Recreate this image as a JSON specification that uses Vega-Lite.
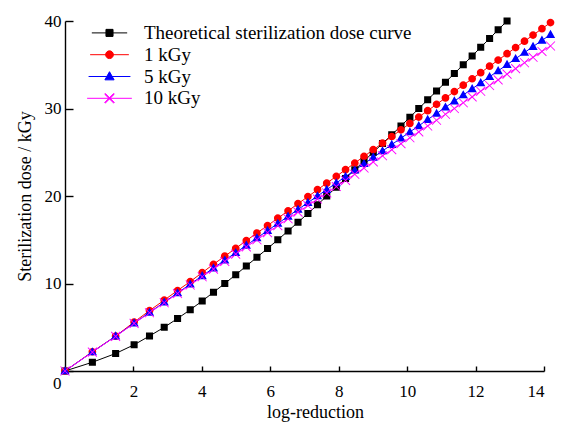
{
  "$schema": "https://vega.github.io/schema/vega-lite/v6.json",
  "autosize": {"type": "none"},
  "padding": {"left": 65, "top": 21, "right": 27, "bottom": 56},
  "width": 479,
  "height": 350,
  "background": "white",
  "config": {
    "view": {"stroke": null},
    "font": "Liberation Serif",
    "axis": {
      "grid": false,
      "domainColor": "black",
      "domainWidth": 1.4,
      "tickColor": "black",
      "tickWidth": 1.4,
      "labelColor": "black",
      "labelFont": "Liberation Serif",
      "labelFontSize": 17,
      "titleFont": "Liberation Serif",
      "titleFontSize": 18,
      "titleFontWeight": "normal",
      "titleColor": "black"
    }
  },
  "data": {
    "values": [
      {"s": "Theoretical sterilization dose curve", "x": 0, "y": 0},
      {"s": "Theoretical sterilization dose curve", "x": 0.80, "y": 1},
      {"s": "Theoretical sterilization dose curve", "x": 1.48, "y": 2},
      {"s": "Theoretical sterilization dose curve", "x": 2.02, "y": 3},
      {"s": "Theoretical sterilization dose curve", "x": 2.47, "y": 4},
      {"s": "Theoretical sterilization dose curve", "x": 2.90, "y": 5},
      {"s": "Theoretical sterilization dose curve", "x": 3.29, "y": 6},
      {"s": "Theoretical sterilization dose curve", "x": 3.66, "y": 7},
      {"s": "Theoretical sterilization dose curve", "x": 4.01, "y": 8},
      {"s": "Theoretical sterilization dose curve", "x": 4.34, "y": 9},
      {"s": "Theoretical sterilization dose curve", "x": 4.67, "y": 10},
      {"s": "Theoretical sterilization dose curve", "x": 4.99, "y": 11},
      {"s": "Theoretical sterilization dose curve", "x": 5.30, "y": 12},
      {"s": "Theoretical sterilization dose curve", "x": 5.61, "y": 13},
      {"s": "Theoretical sterilization dose curve", "x": 5.92, "y": 14},
      {"s": "Theoretical sterilization dose curve", "x": 6.22, "y": 15},
      {"s": "Theoretical sterilization dose curve", "x": 6.52, "y": 16},
      {"s": "Theoretical sterilization dose curve", "x": 6.81, "y": 17},
      {"s": "Theoretical sterilization dose curve", "x": 7.10, "y": 18},
      {"s": "Theoretical sterilization dose curve", "x": 7.38, "y": 19},
      {"s": "Theoretical sterilization dose curve", "x": 7.65, "y": 20},
      {"s": "Theoretical sterilization dose curve", "x": 7.93, "y": 21},
      {"s": "Theoretical sterilization dose curve", "x": 8.20, "y": 22},
      {"s": "Theoretical sterilization dose curve", "x": 8.47, "y": 23},
      {"s": "Theoretical sterilization dose curve", "x": 8.74, "y": 24},
      {"s": "Theoretical sterilization dose curve", "x": 9.01, "y": 25},
      {"s": "Theoretical sterilization dose curve", "x": 9.28, "y": 26},
      {"s": "Theoretical sterilization dose curve", "x": 9.55, "y": 27},
      {"s": "Theoretical sterilization dose curve", "x": 9.82, "y": 28},
      {"s": "Theoretical sterilization dose curve", "x": 10.08, "y": 29},
      {"s": "Theoretical sterilization dose curve", "x": 10.34, "y": 30},
      {"s": "Theoretical sterilization dose curve", "x": 10.60, "y": 31},
      {"s": "Theoretical sterilization dose curve", "x": 10.86, "y": 32},
      {"s": "Theoretical sterilization dose curve", "x": 11.12, "y": 33},
      {"s": "Theoretical sterilization dose curve", "x": 11.38, "y": 34},
      {"s": "Theoretical sterilization dose curve", "x": 11.64, "y": 35},
      {"s": "Theoretical sterilization dose curve", "x": 11.90, "y": 36},
      {"s": "Theoretical sterilization dose curve", "x": 12.15, "y": 37},
      {"s": "Theoretical sterilization dose curve", "x": 12.41, "y": 38},
      {"s": "Theoretical sterilization dose curve", "x": 12.66, "y": 39},
      {"s": "Theoretical sterilization dose curve", "x": 12.92, "y": 40},
      {"s": "1 kGy", "x": 0, "y": 0},
      {"s": "1 kGy", "x": 0.80, "y": 2.20},
      {"s": "1 kGy", "x": 1.48, "y": 3.98},
      {"s": "1 kGy", "x": 2.02, "y": 5.60},
      {"s": "1 kGy", "x": 2.47, "y": 6.90},
      {"s": "1 kGy", "x": 2.90, "y": 8.10},
      {"s": "1 kGy", "x": 3.29, "y": 9.20},
      {"s": "1 kGy", "x": 3.66, "y": 10.22},
      {"s": "1 kGy", "x": 4.01, "y": 11.24},
      {"s": "1 kGy", "x": 4.34, "y": 12.20},
      {"s": "1 kGy", "x": 4.67, "y": 13.12},
      {"s": "1 kGy", "x": 4.99, "y": 14.02},
      {"s": "1 kGy", "x": 5.30, "y": 14.90},
      {"s": "1 kGy", "x": 5.61, "y": 15.77},
      {"s": "1 kGy", "x": 5.92, "y": 16.62},
      {"s": "1 kGy", "x": 6.22, "y": 17.46},
      {"s": "1 kGy", "x": 6.52, "y": 18.30},
      {"s": "1 kGy", "x": 6.81, "y": 19.12},
      {"s": "1 kGy", "x": 7.10, "y": 19.93},
      {"s": "1 kGy", "x": 7.38, "y": 20.72},
      {"s": "1 kGy", "x": 7.65, "y": 21.47},
      {"s": "1 kGy", "x": 7.93, "y": 22.25},
      {"s": "1 kGy", "x": 8.20, "y": 23.01},
      {"s": "1 kGy", "x": 8.47, "y": 23.77},
      {"s": "1 kGy", "x": 8.74, "y": 24.53},
      {"s": "1 kGy", "x": 9.01, "y": 25.29},
      {"s": "1 kGy", "x": 9.28, "y": 26.04},
      {"s": "1 kGy", "x": 9.55, "y": 26.80},
      {"s": "1 kGy", "x": 9.82, "y": 27.56},
      {"s": "1 kGy", "x": 10.08, "y": 28.29},
      {"s": "1 kGy", "x": 10.34, "y": 29.02},
      {"s": "1 kGy", "x": 10.60, "y": 29.75},
      {"s": "1 kGy", "x": 10.86, "y": 30.48},
      {"s": "1 kGy", "x": 11.12, "y": 31.21},
      {"s": "1 kGy", "x": 11.38, "y": 31.94},
      {"s": "1 kGy", "x": 11.64, "y": 32.67},
      {"s": "1 kGy", "x": 11.90, "y": 33.40},
      {"s": "1 kGy", "x": 12.15, "y": 34.10},
      {"s": "1 kGy", "x": 12.41, "y": 34.83},
      {"s": "1 kGy", "x": 12.66, "y": 35.53},
      {"s": "1 kGy", "x": 12.92, "y": 36.26},
      {"s": "1 kGy", "x": 13.17, "y": 36.96},
      {"s": "1 kGy", "x": 13.43, "y": 37.69},
      {"s": "1 kGy", "x": 13.68, "y": 38.39},
      {"s": "1 kGy", "x": 13.94, "y": 39.12},
      {"s": "1 kGy", "x": 14.19, "y": 39.82},
      {"s": "5 kGy", "x": 0, "y": 0},
      {"s": "5 kGy", "x": 0.80, "y": 2.17},
      {"s": "5 kGy", "x": 1.48, "y": 3.98},
      {"s": "5 kGy", "x": 2.02, "y": 5.47},
      {"s": "5 kGy", "x": 2.47, "y": 6.69},
      {"s": "5 kGy", "x": 2.90, "y": 7.86},
      {"s": "5 kGy", "x": 3.29, "y": 8.92},
      {"s": "5 kGy", "x": 3.66, "y": 9.92},
      {"s": "5 kGy", "x": 4.01, "y": 10.87},
      {"s": "5 kGy", "x": 4.34, "y": 11.76},
      {"s": "5 kGy", "x": 4.67, "y": 12.66},
      {"s": "5 kGy", "x": 4.99, "y": 13.52},
      {"s": "5 kGy", "x": 5.30, "y": 14.36},
      {"s": "5 kGy", "x": 5.61, "y": 15.20},
      {"s": "5 kGy", "x": 5.92, "y": 16.04},
      {"s": "5 kGy", "x": 6.22, "y": 16.86},
      {"s": "5 kGy", "x": 6.52, "y": 17.67},
      {"s": "5 kGy", "x": 6.81, "y": 18.46},
      {"s": "5 kGy", "x": 7.10, "y": 19.24},
      {"s": "5 kGy", "x": 7.38, "y": 20.00},
      {"s": "5 kGy", "x": 7.65, "y": 20.73},
      {"s": "5 kGy", "x": 7.93, "y": 21.49},
      {"s": "5 kGy", "x": 8.20, "y": 22.22},
      {"s": "5 kGy", "x": 8.47, "y": 22.95},
      {"s": "5 kGy", "x": 8.74, "y": 23.69},
      {"s": "5 kGy", "x": 9.01, "y": 24.42},
      {"s": "5 kGy", "x": 9.28, "y": 25.15},
      {"s": "5 kGy", "x": 9.55, "y": 25.88},
      {"s": "5 kGy", "x": 9.82, "y": 26.61},
      {"s": "5 kGy", "x": 10.08, "y": 27.32},
      {"s": "5 kGy", "x": 10.34, "y": 28.02},
      {"s": "5 kGy", "x": 10.60, "y": 28.73},
      {"s": "5 kGy", "x": 10.86, "y": 29.43},
      {"s": "5 kGy", "x": 11.12, "y": 30.14},
      {"s": "5 kGy", "x": 11.38, "y": 30.84},
      {"s": "5 kGy", "x": 11.64, "y": 31.54},
      {"s": "5 kGy", "x": 11.90, "y": 32.25},
      {"s": "5 kGy", "x": 12.15, "y": 32.93},
      {"s": "5 kGy", "x": 12.41, "y": 33.63},
      {"s": "5 kGy", "x": 12.66, "y": 34.31},
      {"s": "5 kGy", "x": 12.92, "y": 35.01},
      {"s": "5 kGy", "x": 13.17, "y": 35.69},
      {"s": "5 kGy", "x": 13.43, "y": 36.40},
      {"s": "5 kGy", "x": 13.68, "y": 37.07},
      {"s": "5 kGy", "x": 13.94, "y": 37.78},
      {"s": "5 kGy", "x": 14.19, "y": 38.45},
      {"s": "10 kGy", "x": 0, "y": 0},
      {"s": "10 kGy", "x": 0.80, "y": 2.16},
      {"s": "10 kGy", "x": 1.48, "y": 3.96},
      {"s": "10 kGy", "x": 2.02, "y": 5.44},
      {"s": "10 kGy", "x": 2.47, "y": 6.65},
      {"s": "10 kGy", "x": 2.90, "y": 7.80},
      {"s": "10 kGy", "x": 3.29, "y": 8.85},
      {"s": "10 kGy", "x": 3.66, "y": 9.83},
      {"s": "10 kGy", "x": 4.01, "y": 10.77},
      {"s": "10 kGy", "x": 4.34, "y": 11.64},
      {"s": "10 kGy", "x": 4.67, "y": 12.52},
      {"s": "10 kGy", "x": 4.99, "y": 13.36},
      {"s": "10 kGy", "x": 5.30, "y": 14.18},
      {"s": "10 kGy", "x": 5.61, "y": 15.00},
      {"s": "10 kGy", "x": 5.92, "y": 15.81},
      {"s": "10 kGy", "x": 6.22, "y": 16.61},
      {"s": "10 kGy", "x": 6.52, "y": 17.39},
      {"s": "10 kGy", "x": 6.81, "y": 18.16},
      {"s": "10 kGy", "x": 7.10, "y": 18.91},
      {"s": "10 kGy", "x": 7.38, "y": 19.65},
      {"s": "10 kGy", "x": 7.65, "y": 20.35},
      {"s": "10 kGy", "x": 7.93, "y": 21.08},
      {"s": "10 kGy", "x": 8.20, "y": 21.78},
      {"s": "10 kGy", "x": 8.47, "y": 22.48},
      {"s": "10 kGy", "x": 8.74, "y": 23.19},
      {"s": "10 kGy", "x": 9.01, "y": 23.89},
      {"s": "10 kGy", "x": 9.28, "y": 24.59},
      {"s": "10 kGy", "x": 9.55, "y": 25.29},
      {"s": "10 kGy", "x": 9.82, "y": 25.98},
      {"s": "10 kGy", "x": 10.08, "y": 26.66},
      {"s": "10 kGy", "x": 10.34, "y": 27.33},
      {"s": "10 kGy", "x": 10.60, "y": 28.00},
      {"s": "10 kGy", "x": 10.86, "y": 28.66},
      {"s": "10 kGy", "x": 11.12, "y": 29.34},
      {"s": "10 kGy", "x": 11.38, "y": 30.00},
      {"s": "10 kGy", "x": 11.64, "y": 30.66},
      {"s": "10 kGy", "x": 11.90, "y": 31.33},
      {"s": "10 kGy", "x": 12.15, "y": 31.97},
      {"s": "10 kGy", "x": 12.41, "y": 32.63},
      {"s": "10 kGy", "x": 12.66, "y": 33.27},
      {"s": "10 kGy", "x": 12.92, "y": 33.93},
      {"s": "10 kGy", "x": 13.17, "y": 34.56},
      {"s": "10 kGy", "x": 13.43, "y": 35.23},
      {"s": "10 kGy", "x": 13.68, "y": 35.85},
      {"s": "10 kGy", "x": 13.94, "y": 36.52},
      {"s": "10 kGy", "x": 14.19, "y": 37.14}
    ]
  },
  "encoding": {
    "x": {
      "field": "x", "type": "quantitative",
      "scale": {"domain": [0, 14], "nice": false},
      "axis": {
        "title": "log-reduction",
        "values": [2, 4, 6, 8, 10, 12, 14],
        "tickSize": -5,
        "labelPadding": 17,
        "titlePadding": 4,
        "titleX": 250
      }
    },
    "y": {
      "field": "y", "type": "quantitative",
      "scale": {"domain": [0, 40], "nice": false},
      "axis": {
        "title": "Sterilization dose / kGy",
        "values": [0, 10, 20, 30, 40],
        "tickSize": -8,
        "labelPadding": 12,
        "labelOffset": {"condition": {"test": "datum.value === 0", "value": 12}, "value": 0},
        "titlePadding": 10
      }
    }
  },
  "layer": [
    {
      "mark": {"type": "line", "strokeWidth": 1, "clip": false},
      "encoding": {
        "stroke": {
          "field": "s", "type": "nominal",
          "scale": {
            "domain": ["Theoretical sterilization dose curve", "1 kGy", "5 kGy", "10 kGy"],
            "range": ["#000000", "#ff0000", "#0000ff", "#ff00ff"]
          },
          "legend": {
            "title": null, "orient": "none", "legendX": 35, "legendY": 2.4, "padding": 0,
            "symbolSize": 64, "symbolStrokeWidth": 1,
            "labelFont": "Liberation Serif", "labelFontSize": 19, "labelColor": "black",
            "labelOffset": 25, "labelLimit": 500, "rowPadding": 1.8
          }
        }
      }
    },
    {
      "mark": {"type": "point", "filled": true, "opacity": 1, "strokeWidth": 0, "clip": false},
      "encoding": {
        "stroke": {
          "field": "s", "type": "nominal",
          "scale": {
            "domain": ["Theoretical sterilization dose curve", "1 kGy", "5 kGy", "10 kGy"],
            "range": ["#000000", "#ff0000", "#0000ff", "#ff00ff"]
          },
          "legend": {
            "title": null, "orient": "none", "legendX": 35, "legendY": 2.4, "padding": 0,
            "symbolSize": 64, "symbolStrokeWidth": 1,
            "labelFont": "Liberation Serif", "labelFontSize": 19, "labelColor": "black",
            "labelOffset": 25, "labelLimit": 500, "rowPadding": 1.8
          }
        },
        "fill": {
          "field": "s", "type": "nominal",
          "scale": {
            "domain": ["Theoretical sterilization dose curve", "1 kGy", "5 kGy", "10 kGy"],
            "range": ["#000000", "#ff0000", "#0000ff", "#ff00ff"]
          },
          "legend": {
            "title": null, "orient": "none", "legendX": 35, "legendY": 2.4, "padding": 0,
            "symbolSize": 64, "symbolStrokeWidth": 1,
            "labelFont": "Liberation Serif", "labelFontSize": 19, "labelColor": "black",
            "labelOffset": 25, "labelLimit": 500, "rowPadding": 1.8
          }
        },
        "shape": {
          "field": "s", "type": "nominal",
          "scale": {
            "domain": ["Theoretical sterilization dose curve", "1 kGy", "5 kGy", "10 kGy"],
            "range": [
              "M-5,0H5M-1,-1H1V1H-1Z",
              "M-5,0H5M-1,0A1,1 0 1,0 1,0A1,1 0 1,0 -1,0Z",
              "M-5,0H5M0,-1.15L1.1,0.8H-1.1Z",
              "M-5,0H5M-0.93,-1.07L1.07,0.93L0.93,1.07L-1.07,-0.93ZM-0.93,1.07L-1.07,0.93L0.93,-1.07L1.07,-0.93Z"
            ]
          },
          "legend": {
            "title": null, "orient": "none", "legendX": 35, "legendY": 2.4, "padding": 0,
            "symbolSize": 64, "symbolStrokeWidth": 1,
            "labelFont": "Liberation Serif", "labelFontSize": 19, "labelColor": "black",
            "labelOffset": 25, "labelLimit": 500, "rowPadding": 1.8
          }
        },
        "size": {
          "field": "s", "type": "nominal",
          "scale": {
            "domain": ["Theoretical sterilization dose curve", "1 kGy", "5 kGy", "10 kGy"],
            "range": [50, 80, 64, 95]
          },
          "legend": null
        }
      }
    }
  ]
}
